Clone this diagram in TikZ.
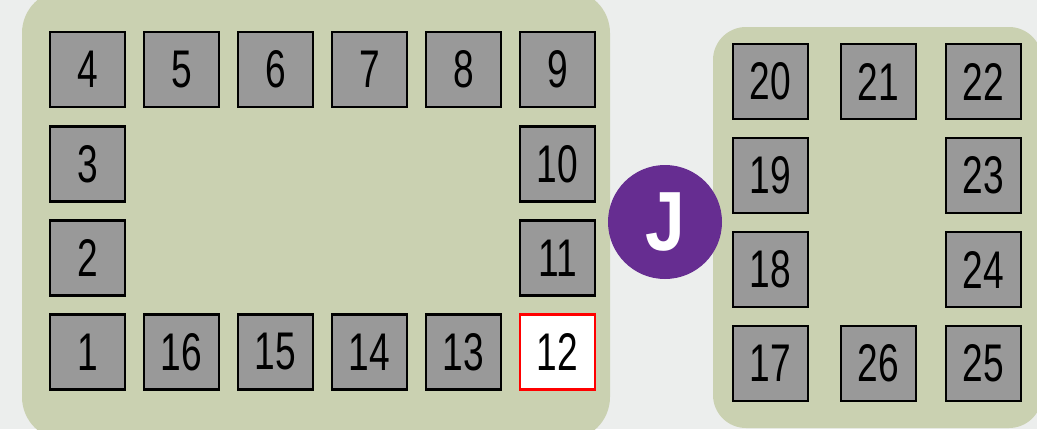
\documentclass[tikz,border=0pt]{standalone}
\usepackage{fontspec}
\setmainfont{Liberation Sans}
\definecolor{bgcol}{HTML}{ECEEED}
\definecolor{panelcol}{HTML}{CAD1B1}
\definecolor{boxgray}{HTML}{999999}
\definecolor{jpurple}{HTML}{662D91}
\newcommand{\numtxt}[1]{\raisebox{-3pt}{\scalebox{0.7}[1]{\fontsize{53}{53}\selectfont #1}}}
\tikzset{
  seat/.style={draw=black, line width=2.2pt, fill=boxgray, minimum width=75pt, minimum height=75pt, inner sep=0pt, text=black},
  seatsel/.style={seat, draw=red, fill=white},
  panel/.style={fill=panelcol, draw=none},
}
\begin{document}
\begin{tikzpicture}[x=1pt,y=-1pt]
\useasboundingbox (0,0) rectangle (1037,429);
\fill[bgcol] (0,0) rectangle (1037,429);
% panels
\fill[panel, rounded corners=43pt] (22,-10) rectangle (610,440);
\fill[panel, rounded corners=33pt] (713,27) rectangle (1042,428);
% left panel seats
\node[seat] (b4) at (87.5,69.5) {\numtxt{4}};
\node[seat] (b5) at (181.5,69.5) {\numtxt{5}};
\node[seat] (b6) at (275.5,69.5) {\numtxt{6}};
\node[seat] (b7) at (369.5,69.5) {\numtxt{7}};
\node[seat] (b8) at (463.5,69.5) {\numtxt{8}};
\node[seat] (b9) at (557.5,69.5) {\numtxt{9}};
\node[seat] (b3) at (87.5,164) {\numtxt{3}};
\node[seat] (b10) at (557.5,164) {\numtxt{10}};
\node[seat] (b2) at (87.5,258) {\numtxt{2}};
\node[seat] (b11) at (557.5,258) {\numtxt{11}};
\node[seat] (b1) at (87.5,352) {\numtxt{1}};
\node[seat] (b16) at (181.5,352) {\numtxt{16}};
\node[seat] (b15) at (275.5,352) {\numtxt{15}};
\node[seat] (b14) at (369.5,352) {\numtxt{14}};
\node[seat] (b13) at (463.5,352) {\numtxt{13}};
\node[seatsel] (b12) at (557.5,352) {\numtxt{12}};
% J marker
\node[circle, fill=jpurple, minimum size=114pt, inner sep=0pt, text=white] (j) at (665,222)
  {\raisebox{-2pt}{\scalebox{0.85}[1]{\fontsize{84}{84}\selectfont\bfseries J}}};
% right panel seats
\node[seat] (b20) at (770.5,81.5) {\numtxt{20}};
\node[seat] (b21) at (878.5,81.5) {\numtxt{21}};
\node[seat] (b22) at (983.5,81.5) {\numtxt{22}};
\node[seat] (b19) at (770.5,175.5) {\numtxt{19}};
\node[seat] (b23) at (983.5,175.5) {\numtxt{23}};
\node[seat] (b18) at (770.5,269.5) {\numtxt{18}};
\node[seat] (b24) at (983.5,269.5) {\numtxt{24}};
\node[seat] (b17) at (770.5,363.5) {\numtxt{17}};
\node[seat] (b26) at (878.5,363.5) {\numtxt{26}};
\node[seat] (b25) at (983.5,363.5) {\numtxt{25}};
\end{tikzpicture}
\end{document}
